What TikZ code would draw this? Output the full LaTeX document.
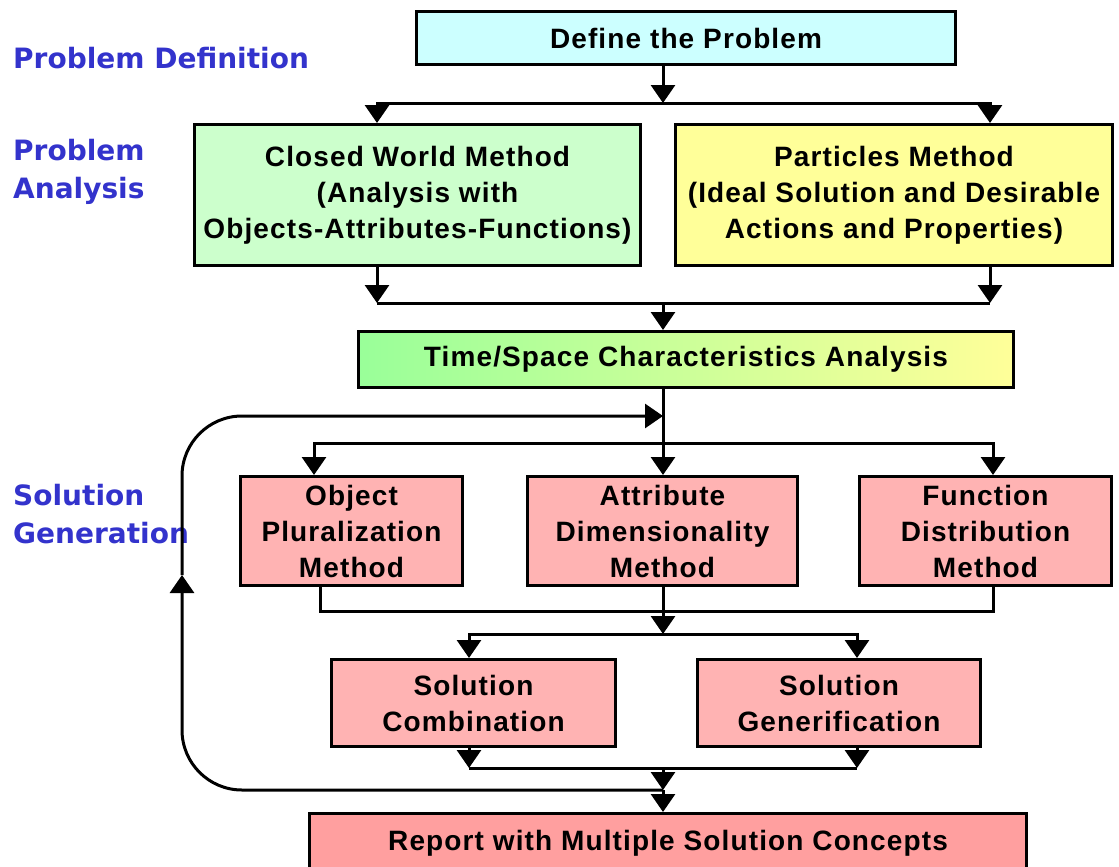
\documentclass[tikz,border=0pt]{standalone}
\usepackage{fontspec}
\usetikzlibrary{arrows.meta}
\newfontfamily\boxfont{Liberation Sans}[LetterSpace=4]
\newfontfamily\phasefont{DejaVu Sans}
\definecolor{phaseblue}{HTML}{3333CC}
\definecolor{skyfill}{HTML}{CCFFFF}
\definecolor{mintfill}{HTML}{CCFFCC}
\definecolor{lemonfill}{HTML}{FFFF99}
\definecolor{limefill}{HTML}{99FF99}
\definecolor{rosefill}{HTML}{FFB3B3}
\definecolor{salmonfill}{HTML}{FF9F9F}
\tikzstyle{stage} = [rectangle, draw=black, line width=3pt, inner sep=0pt, align=center, font=\boxfont\bfseries\fontsize{28}{36}\selectfont]
\tikzstyle{method} = [stage, fill=rosefill]
\tikzstyle{phase} = [anchor=base west, inner sep=0pt, align=left, text=phaseblue, font=\phasefont\bfseries\fontsize{28}{38}\selectfont]
\tikzstyle{link} = [line width=3pt]
\tikzstyle{arrow} = [line width=3pt, -{Triangle[width=24pt,length=18pt]}]
\begin{document}
\begin{tikzpicture}[x=1pt, y=-1pt]
\useasboundingbox (0,0) rectangle (1119,867);

%Phase labels
\node (lbldef) [phase] at (13,69) {Problem Definition};
\node (lblana) [phase] at (13,198) {Problem\\Analysis};
\node (lblgen) [phase] at (13,543) {Solution\\Generation};

%Nodes
\node (define) [stage, fill=skyfill, minimum width=539, minimum height=53] at (686,38) {Define the Problem};
\node (cwm) [stage, fill=mintfill, minimum width=446, minimum height=141] at (417.5,195) {Closed World Method\\(Analysis with\\Objects-Attributes-Functions)};
\node (pm) [stage, fill=lemonfill, minimum width=437, minimum height=141] at (894,195) {Particles Method\\(Ideal Solution and Desirable\\Actions and Properties)};
\node (tsa) [stage, left color=limefill, right color=lemonfill, minimum width=655, minimum height=56] at (686,359.5) {Time/Space Characteristics Analysis};
\node (opm) [method, minimum width=222, minimum height=109] at (351.5,531) {Object\\Pluralization\\Method};
\node (adm) [method, minimum width=270, minimum height=109] at (662.5,531) {Attribute\\Dimensionality\\Method};
\node (fdm) [method, minimum width=252, minimum height=109] at (985.5,531) {Function\\Distribution\\Method};
\node (sc) [method, minimum width=284, minimum height=87] at (473.5,703) {Solution\\Combination};
\node (sg) [method, minimum width=283, minimum height=87] at (839,703) {Solution\\Generification};
\node (rep) [stage, fill=salmonfill, minimum width=717, minimum height=60] at (668,843.5) {Report with Multiple Solution Concepts};

%Junctions
\coordinate (split1) at (663,103);
\coordinate (s1w) at (377,103);
\coordinate (s1e) at (990,103);
\coordinate (merge1) at (663,303);
\coordinate (m1w) at (377,303);
\coordinate (m1e) at (990,303);
\coordinate (fbtop) at (663,416);
\coordinate (split2) at (663,443);
\coordinate (s2w) at (314,443);
\coordinate (s2e) at (993,443);
\coordinate (m2w) at (320,611);
\coordinate (m2e) at (993,611);
\coordinate (split3) at (663,634);
\coordinate (s3w) at (469,634);
\coordinate (s3e) at (857,634);
\coordinate (merge3) at (663,768);
\coordinate (m3w) at (469,768);
\coordinate (m3e) at (857,768);
\coordinate (fbbot) at (663,790);
\coordinate (fbup) at (182,575);

%Arrows
\draw [arrow] (define.south -| split1) -- (split1);
\draw [arrow] (split1) -- (s1w) -- (s1w |- cwm.north);
\draw [arrow] (split1) -- (s1e) -- (s1e |- pm.north);
\draw [arrow] (s1w |- cwm.south) -- (m1w);
\draw [arrow] (s1e |- pm.south) -- (m1e);
\draw [link] (m1w) -- (m1e);
\draw [arrow] (merge1) -- (merge1 |- tsa.north);
\draw [arrow] (tsa.south -| split2) -- (split2 |- adm.north);
\draw [arrow] (split2) -- (s2w) -- (s2w |- opm.north);
\draw [arrow] (split2) -- (s2e) -- (s2e |- fdm.north);
\draw [link] (m2w |- opm.south) -- (m2w) -- (m2e) -- (m2e |- fdm.south);
\draw [arrow] (adm.south -| split3) -- (split3);
\draw [arrow] (split3) -- (s3w) -- (s3w |- sc.north);
\draw [arrow] (split3) -- (s3e) -- (s3e |- sg.north);
\draw [arrow] (m3w |- sc.south) -- (m3w);
\draw [arrow] (m3e |- sg.south) -- (m3e);
\draw [link] (m3w) -- (m3e);
\draw [arrow] (merge3) -- (fbbot);
\draw [arrow] (fbbot) -- (fbbot |- rep.north);
\draw [arrow, rounded corners=60pt] (fbbot) -| (fbup);
\draw [arrow, rounded corners=60pt] (fbup) |- (fbtop);

\end{tikzpicture}
\end{document}
